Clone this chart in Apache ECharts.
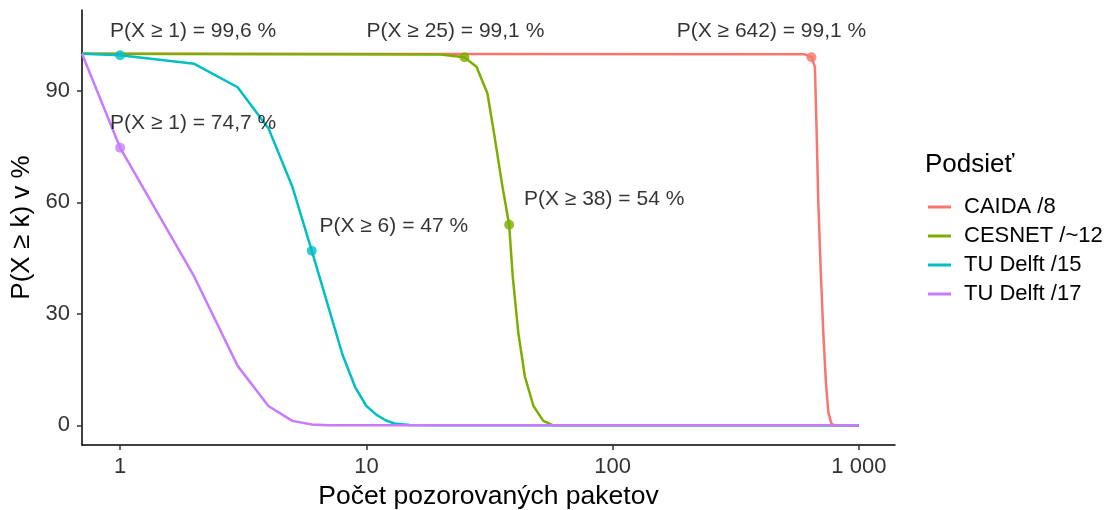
<!DOCTYPE html>
<html>
<head>
<meta charset="utf-8">
<script src="https://cdn.jsdelivr.net/npm/echarts@6/dist/echarts.min.js"></script>
<style>
html, body { margin: 0; padding: 0; background: #fff; }
#chart { width: 1114px; height: 510px; }
</style>
</head>
<body>
<div id="chart"></div>
<script>
const seriesNames = ['CAIDA /8', 'CESNET /~12', 'TU Delft /15', 'TU Delft /17']
const colors = ['#F8766D', '#7CAE00', '#00BFC4', '#C77CFF']

// k = 0 is drawn at the left edge of the log axis
const kZero = 0.7

const caidaK = [kZero, 600, 642, 663, 674, 684, 699, 717, 735, 752, 775, 800, 1000]
const caidaP = [100, 99.9, 99.1, 96.5, 78.6, 60.7, 42.8, 24.9, 11.5, 3.4, 0.3, 0, 0]

const cesnetK = [kZero, 20, 25, 28, 31, 33, 35.5, 38, 39.3, 41.4, 44, 47.7, 52.3, 57.4, 1000]
const cesnetP = [100, 99.8, 99.1, 96.5, 89.4, 78.6, 65.2, 54, 40, 24.9, 13.2, 5.2, 1.2, 0, 0]

const delft15K = [kZero, 1, 2, 3, 4, 5, 6, 7, 8, 9, 10, 11, 12, 13, 15, 20, 1000]
const delft15P = [100, 99.6, 97.3, 91, 80, 64.3, 47, 32, 19, 10.3, 5.2, 2.8, 1.3, 0.5, 0.1, 0, 0]

const delft17K = [kZero, 1, 2, 3, 4, 5, 6, 7, 8, 10, 1000]
const delft17P = [100, 74.7, 40, 16, 5.2, 1.2, 0.2, 0.05, 0, 0, 0]

// highlighted points: series index, k, P
const highlightSeries = [2, 1, 0, 3, 1, 2]
const highlightK = [1, 25, 642, 1, 38, 6]
const highlightP = [99.6, 99.1, 99.1, 74.7, 54, 47]

const xTicks = [1, 10, 100, 1000]
const yTicks = [0, 30, 60, 90]

// label offsets in px from the point
const labelOffsets = [[73, -24], [-9, -26], [-40, -26], [73, -25], [95, -26], [82, -25]]

const font = 'Liberation Sans, Arial, sans-serif'

function pairs (ks, ps) {
  return ks.map((k, i) => [k, ps[i]])
}

const lineData = [
  pairs(caidaK, caidaP),
  pairs(cesnetK, cesnetP),
  pairs(delft15K, delft15P),
  pairs(delft17K, delft17P)
]

function fmtNum (v) {
  return String(v).replace(/\B(?=(\d{3})+(?!\d))/g, ' ')
}

const series = lineData.map((d, i) => ({
  name: seriesNames[i],
  type: 'line',
  data: d,
  showSymbol: false,
  smooth: false,
  lineStyle: { width: 2.5, color: colors[i] },
  itemStyle: { color: colors[i] },
  z: 2
}))

series.push({
  name: 'highlights',
  type: 'scatter',
  symbolSize: 10,
  z: 5,
  data: highlightK.map((k, i) => ({
    value: [k, highlightP[i]],
    itemStyle: { color: colors[highlightSeries[i]] },
    label: {
      offset: labelOffsets[i],
      formatter: 'P(X ≥ ' + k + ') = ' + String(highlightP[i]).replace('.', ',') + ' %'
    }
  })),
  label: {
    show: true,
    position: 'inside',
    align: 'center',
    verticalAlign: 'middle',
    color: '#000',
    fontSize: 21,
    fontFamily: font
  }
})

const option = {
  backgroundColor: '#fff',
  animation: false,
  grid: {
    left: 82,
    right: 219,
    top: 10,
    bottom: 65,
    outerBoundsMode: 'none'
  },
  title: {
    text: 'Podsieť',
    left: 920,
    top: 147,
    textStyle: { fontSize: 26, fontWeight: 'normal', color: '#000', fontFamily: font }
  },
  legend: {
    data: seriesNames,
    orient: 'vertical',
    left: 923,
    top: 191,
    icon: 'rect',
    itemWidth: 23,
    itemHeight: 3,
    itemGap: 7,
    textStyle: { fontSize: 22, color: '#000', fontFamily: font, padding: [0, 0, 0, 8] }
  },
  xAxis: {
    type: 'log',
    logBase: 10,
    min: 0.7,
    max: 1402,
    name: 'Počet pozorovaných paketov',
    nameLocation: 'middle',
    nameGap: 37,
    nameTextStyle: { fontSize: 26.5, color: '#000', fontFamily: font },
    axisLine: { onZero: false, lineStyle: { color: '#000', width: 1.5 } },
    axisTick: { customValues: xTicks, length: 5, lineStyle: { color: '#333', width: 1.5 } },
    axisLabel: {
      customValues: xTicks,
      margin: 11,
      fontSize: 22,
      color: '#333',
      fontFamily: font,
      formatter: v => fmtNum(v)
    },
    splitLine: { show: false },
    minorTick: { show: false }
  },
  yAxis: {
    type: 'value',
    min: -5.3,
    max: 111.8,
    name: 'P(X ≥ k) v %',
    nameLocation: 'middle',
    nameGap: 40,
    nameTextStyle: { fontSize: 26, color: '#000', fontFamily: font },
    axisLine: { show: true, onZero: false, lineStyle: { color: '#000', width: 1.5 } },
    axisTick: { show: true, customValues: yTicks, length: 5, lineStyle: { color: '#333', width: 1.5 } },
    axisLabel: {
      customValues: yTicks,
      margin: 12,
      fontSize: 22,
      color: '#333',
      fontFamily: font
    },
    splitLine: { show: false }
  },
  series: series
}

const chart = echarts.init(document.getElementById('chart'))
chart.setOption(option)
</script>
</body>
</html>
